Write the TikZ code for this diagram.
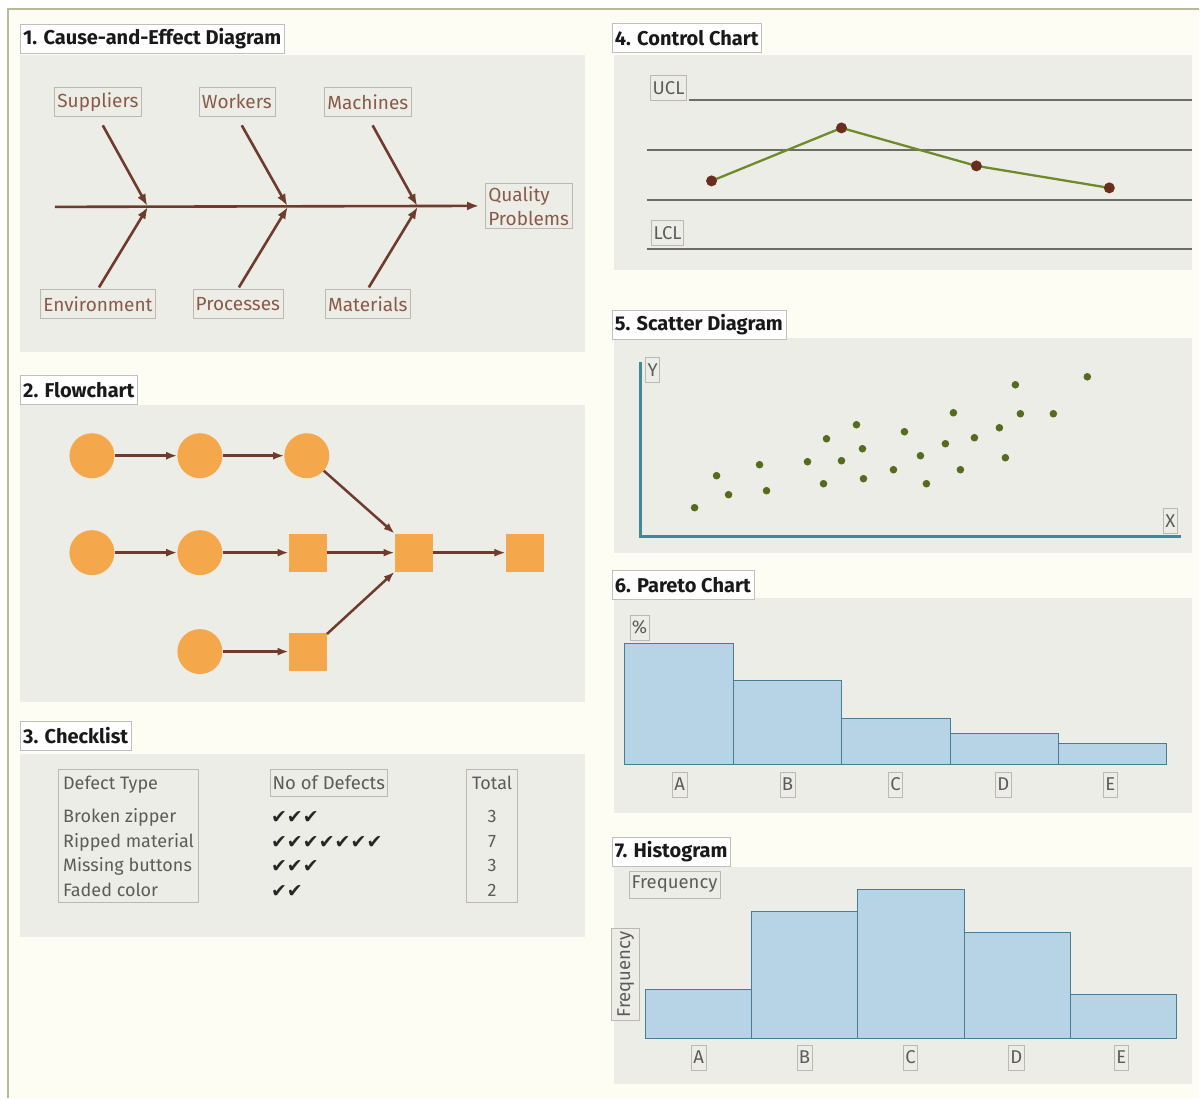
\documentclass[tikz,border=0pt]{standalone}
\usepackage{fontspec}
\setmainfont{Fira Sans}
\newfontfamily\symf{DejaVu Sans}
\usetikzlibrary{arrows.meta,calc}

\definecolor{bgc}{HTML}{FEFDF4}
\definecolor{framec}{HTML}{B9B99A}
\definecolor{panel}{HTML}{EDEDE7}
\definecolor{brn}{HTML}{6E3B2C}
\definecolor{lbltext}{HTML}{8A5A48}
\definecolor{boxedge}{HTML}{BDB8B0}
\definecolor{orng}{HTML}{F5A74C}
\definecolor{txtg}{HTML}{5C5C5C}
\definecolor{lineg}{HTML}{6A6D66}
\definecolor{olivec}{HTML}{6E8B2C}
\definecolor{dotb}{HTML}{6A2E1E}
\definecolor{tealc}{HTML}{3C8C98}
\definecolor{sdot}{HTML}{556B1E}
\definecolor{barf}{HTML}{B7D3E6}
\definecolor{bare}{HTML}{4B7C95}

\begin{document}
\begin{tikzpicture}[x=1pt,y=-1pt,
  paneltitle/.style={draw=gray!50, fill=white, font=\bfseries\fontsize{20}{23}\selectfont, text=black!90,
    inner xsep=3pt, inner ysep=0pt, minimum height=29pt, anchor=west},
  cause/.style={draw=boxedge, text=lbltext, font=\fontsize{19}{22}\selectfont, inner xsep=3pt, inner ysep=0pt, minimum height=29pt},
  bone/.style={draw=brn, line width=2.6pt},
  bonearrow/.style={bone, -{Latex[length=12pt,width=9pt]}},
  fcirc/.style={circle, fill=orng, minimum size=45pt, inner sep=0pt},
  fsq/.style={rectangle, fill=orng, minimum size=38pt, inner sep=0pt},
  flow/.style={draw=brn, line width=2.5pt, -{Latex[length=11pt,width=8pt]}},
  tbox/.style={draw=boxedge, line width=1pt},
  ttext/.style={text=txtg, font=\fontsize{18}{22}\selectfont, inner sep=0pt, anchor=base west},
  chk/.style={text=black!85, font=\symf\fontsize{19}{22}\selectfont, inner sep=0pt, anchor=base west},
  axlbl/.style={draw=boxedge, fill=panel, text=txtg, font=\fontsize{18.5}{22}\selectfont, inner xsep=2pt, inner ysep=0pt, minimum height=25pt},
  cline/.style={draw=lineg, line width=2.5pt},
  bar/.style={fill=barf, draw=bare, line width=1.5pt},
  sdt/.style={fill=sdot}
]
% background and frame
\fill[white] (0,0) rectangle (1200,1099);
\fill[bgc] (8,9) rectangle (1200,1099);
\draw[framec, line width=1.5pt] (8,1099) -- (8,9) -- (1200,9);

% panels
\fill[panel] (20,55) rectangle (585,352);
\fill[panel] (20,405) rectangle (585,702);
\fill[panel] (20,754) rectangle (585,938);
\fill[panel] (614,55) rectangle (1193,270);
\fill[panel] (614,338) rectangle (1193,553);
\fill[panel] (614,598) rectangle (1193,813);
\fill[panel] (614,868) rectangle (1193,1085);

% titles
\node[paneltitle] (t1) at (20,39) {1. Cause-and-Effect Diagram};
\node[paneltitle] (t2) at (20,390) {2. Flowchart};
\node[paneltitle] (t3) at (20,736) {3. Checklist};
\node[paneltitle] (t4) at (612,38) {4. Control Chart};
\node[paneltitle] (t5) at (612,325) {5. Scatter Diagram};
\node[paneltitle] (t6) at (612,585) {6. Pareto Chart};
\node[paneltitle] (t7) at (612,852) {7. Histogram};

% ---------- 1. fishbone
\node[cause] (sup) at (98,102) {Suppliers};
\node[cause] (wor) at (237,102) {Workers};
\node[cause] (mac) at (368,102) {Machines};
\node[cause] (env) at (98,304) {Environment};
\node[cause] (pro) at (238,304) {Processes};
\node[cause] (mat) at (368,304) {Materials};
\node[draw=boxedge, text=lbltext, font=\fontsize{19}{24}\selectfont, align=left, inner xsep=3pt, inner ysep=3pt]
  (qp) at (529,206) {Quality\\Problems};
\coordinate (tail) at (55,207);
\coordinate (j1) at (148,207);
\coordinate (j2) at (288,207);
\coordinate (j3) at (418,207);
\draw[bonearrow, shorten >=6pt] (tail) -- (qp.west);
\draw[bonearrow, shorten <=10pt, shorten >=1pt] (sup.south) -- (j1);
\draw[bonearrow, shorten <=10pt, shorten >=1pt] (wor.south) -- (j2);
\draw[bonearrow, shorten <=10pt, shorten >=1pt] (mac.south) -- (j3);
\draw[bonearrow, shorten <=2pt, shorten >=0pt] (env.north) -- (j1);
\draw[bonearrow, shorten <=2pt, shorten >=0pt] (pro.north) -- (j2);
\draw[bonearrow, shorten <=2pt, shorten >=0pt] (mat.north) -- (j3);

% ---------- 2. flowchart
\node[fcirc] (a1) at (92,456) {};
\node[fcirc] (a2) at (200,456) {};
\node[fcirc] (a3) at (307,456) {};
\node[fcirc] (b1) at (92,553) {};
\node[fcirc] (b2) at (200,553) {};
\node[fsq] (b3) at (308,553) {};
\node[fsq] (b4) at (414,553) {};
\node[fsq] (b5) at (525,553) {};
\node[fcirc] (c2) at (200,652) {};
\node[fsq] (c3) at (308,652) {};
\draw[flow] (a1) -- (a2);
\draw[flow] (a2) -- (a3);
\draw[flow] (a3) -- (b4.north west);
\draw[flow] (b1) -- (b2);
\draw[flow] (b2) -- (b3);
\draw[flow] (b3) -- (b4);
\draw[flow] (b4) -- (b5);
\draw[flow] (c2) -- (c3);
\draw[flow] (c3) -- (b4.south west);

% ---------- 3. checklist
\node[tbox, minimum width=140pt, minimum height=133pt, inner sep=0pt] (dtbox) at (129,836.5) {};
\node[tbox, minimum width=51pt, minimum height=133pt, inner sep=0pt] (totbox) at (492.5,836.5) {};
\node[tbox, text=txtg, font=\fontsize{18.5}{22}\selectfont, minimum height=27pt, inner xsep=2pt, inner ysep=0pt] (ndbox) at (329,783.5) {No of Defects};
\node[ttext] (h1) at (63,790) {Defect Type};
\node[ttext] (r1) at (63,823) {Broken zipper};
\node[ttext] (r2) at (63,848) {Ripped material};
\node[ttext] (r3) at (63,872) {Missing buttons};
\node[ttext] (r4) at (63,897) {Faded color};
\node[chk] (k1) at (271,824) {✔✔✔};
\node[chk] (k2) at (271,849) {✔✔✔✔✔✔✔};
\node[chk] (k3) at (271,873) {✔✔✔};
\node[chk] (k4) at (271,898) {✔✔};
\node[ttext, anchor=base] (th) at (492.5,790) {Total};
\node[ttext, anchor=base] (n1) at (492.5,823) {3};
\node[ttext, anchor=base] (n2) at (492.5,848) {7};
\node[ttext, anchor=base] (n3) at (492.5,872) {3};
\node[ttext, anchor=base] (n4) at (492.5,897) {2};

% ---------- 4. control chart
\node[axlbl] (ucl) at (669,88) {UCL};
\node[axlbl] (lcl) at (668,233) {LCL};
\coordinate (uclend) at (1193,100);
\coordinate (cl1a) at (647,150);
\coordinate (cl1b) at (1193,150);
\coordinate (cl2a) at (647,200);
\coordinate (cl2b) at (1193,200);
\coordinate (lclend) at (1193,249);
\draw[cline] ([xshift=2pt]ucl.east |- uclend) -- (uclend);
\draw[cline] (cl1a) -- (cl1b);
\draw[cline] (cl2a) -- (cl2b);
\draw[cline] (cl2a |- lclend) -- (lclend);
\coordinate (p1) at (712,181);
\coordinate (p2) at (842,128);
\coordinate (p3) at (977,166);
\coordinate (p4) at (1110,188);
\draw[olivec, line width=2.3pt] (p1) -- (p2) -- (p3) -- (p4);
\foreach \p in {p1,p2,p3,p4} \fill[dotb] (\p) circle (5.5);

% ---------- 5. scatter
\coordinate (origin) at (641,537);
\coordinate (ytop) at (641,362);
\coordinate (xend) at (1182,537);
\draw[tealc, line width=3pt] (ytop) -- (origin) -- (xend);
\node[axlbl] (ylab) at (653,370) {Y};
\node[axlbl] (xlab) at (1171,521) {X};
\foreach \x/\y in {695/508,717/476,729/495,760/465,767/491,808/462,824/484,827/439,842/461,857/425,863/449,864/479,894/470,905/432,921/456,927/484,946/444,954/413,961/470,975/438,1000/428,1006/458,1016/385,1021/414,1054/414,1088/377}
  \fill[sdt] (\x,\y) circle (3.8);

% ---------- 6. pareto
\filldraw[bar] (625,765) rectangle (734,644);
\filldraw[bar] (734,765) rectangle (842,681);
\filldraw[bar] (842,765) rectangle (951,719);
\filldraw[bar] (951,765) rectangle (1059,734);
\filldraw[bar] (1059,765) rectangle (1167,744);
\node[axlbl] (pct) at (640,628) {\%};
\node[axlbl] (pa) at (680,785) {A};
\node[axlbl] (pb) at (788,785) {B};
\node[axlbl] (pc) at (896,785) {C};
\node[axlbl] (pd) at (1004,785) {D};
\node[axlbl] (pe) at (1111,785) {E};

% ---------- 7. histogram
\filldraw[bar] (646,1039) rectangle (752,990);
\filldraw[bar] (752,1039) rectangle (858,912);
\filldraw[bar] (858,1039) rectangle (965,890);
\filldraw[bar] (965,1039) rectangle (1071,933);
\filldraw[bar] (1071,1039) rectangle (1177,995);
\node[axlbl, inner xsep=3pt, minimum height=27pt] (freqtop) at (675,885) {Frequency};
\node[axlbl, inner xsep=3pt, minimum height=28pt, rotate=90] (freqside) at (626,975) {Frequency};
\node[axlbl] (ha) at (699,1058) {A};
\node[axlbl] (hb) at (805,1058) {B};
\node[axlbl] (hc) at (911,1058) {C};
\node[axlbl] (hd) at (1017,1058) {D};
\node[axlbl] (he) at (1122,1058) {E};

\useasboundingbox (0,0) rectangle (1200,1099);
\end{tikzpicture}
\end{document}
